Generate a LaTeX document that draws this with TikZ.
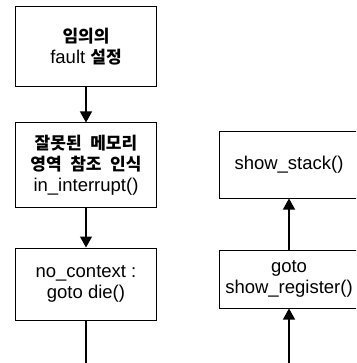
\documentclass[tikz,border=0pt]{standalone}
\usepackage{fontspec}
\setmainfont{Liberation Sans}
\newfontfamily\kr{Noto Sans CJK KR}[Scale=0.92, WordSpace=2.2]
\usetikzlibrary{arrows.meta}

\begin{document}
\begin{tikzpicture}[x=1pt,y=-1pt,
  box/.style={draw, line width=1pt, inner sep=0pt, align=center,
    font=\fontsize{18.5}{21}\selectfont},
  arr/.style={line width=1.2pt, -{Triangle[length=11pt,width=12pt]}}]

% Riquadro della figura
\useasboundingbox (0,0) rectangle (356,363);
\clip (0,0) rectangle (356,363);

% Colonna sinistra
\node[box, minimum width=141pt, minimum height=80pt] (fault) at (86,47)
  {{\kr\bfseries 임의의}\\fault {\kr\bfseries 설정}};
\node[box, minimum width=141pt, minimum height=84pt] (interr) at (86,165)
  {{\kr\bfseries 잘못된 메모리}\\{\kr\bfseries 영역 참조 인식}\\in\_interrupt()};
\node[box, minimum width=141pt, minimum height=72pt] (ctx) at (86,284)
  {no\_context :\\goto die()};
\coordinate (ctxout) at (86,363);

% Colonna destra
\node[box, minimum width=140pt, minimum height=66pt] (stack) at (289,165)
  {show\_stack()};
\node[box, minimum width=140pt, minimum height=58pt] (reg) at (289,279)
  {goto\\show\_register()};
\coordinate (regin) at (289,363);

% Frecce
\draw[arr] (fault) -- (interr);
\draw[arr] (interr) -- (ctx);
\draw[line width=1.2pt] (ctx) -- (ctxout);
\draw[arr] (regin) -- (reg);
\draw[arr] (reg) -- (stack);

\end{tikzpicture}
\end{document}
